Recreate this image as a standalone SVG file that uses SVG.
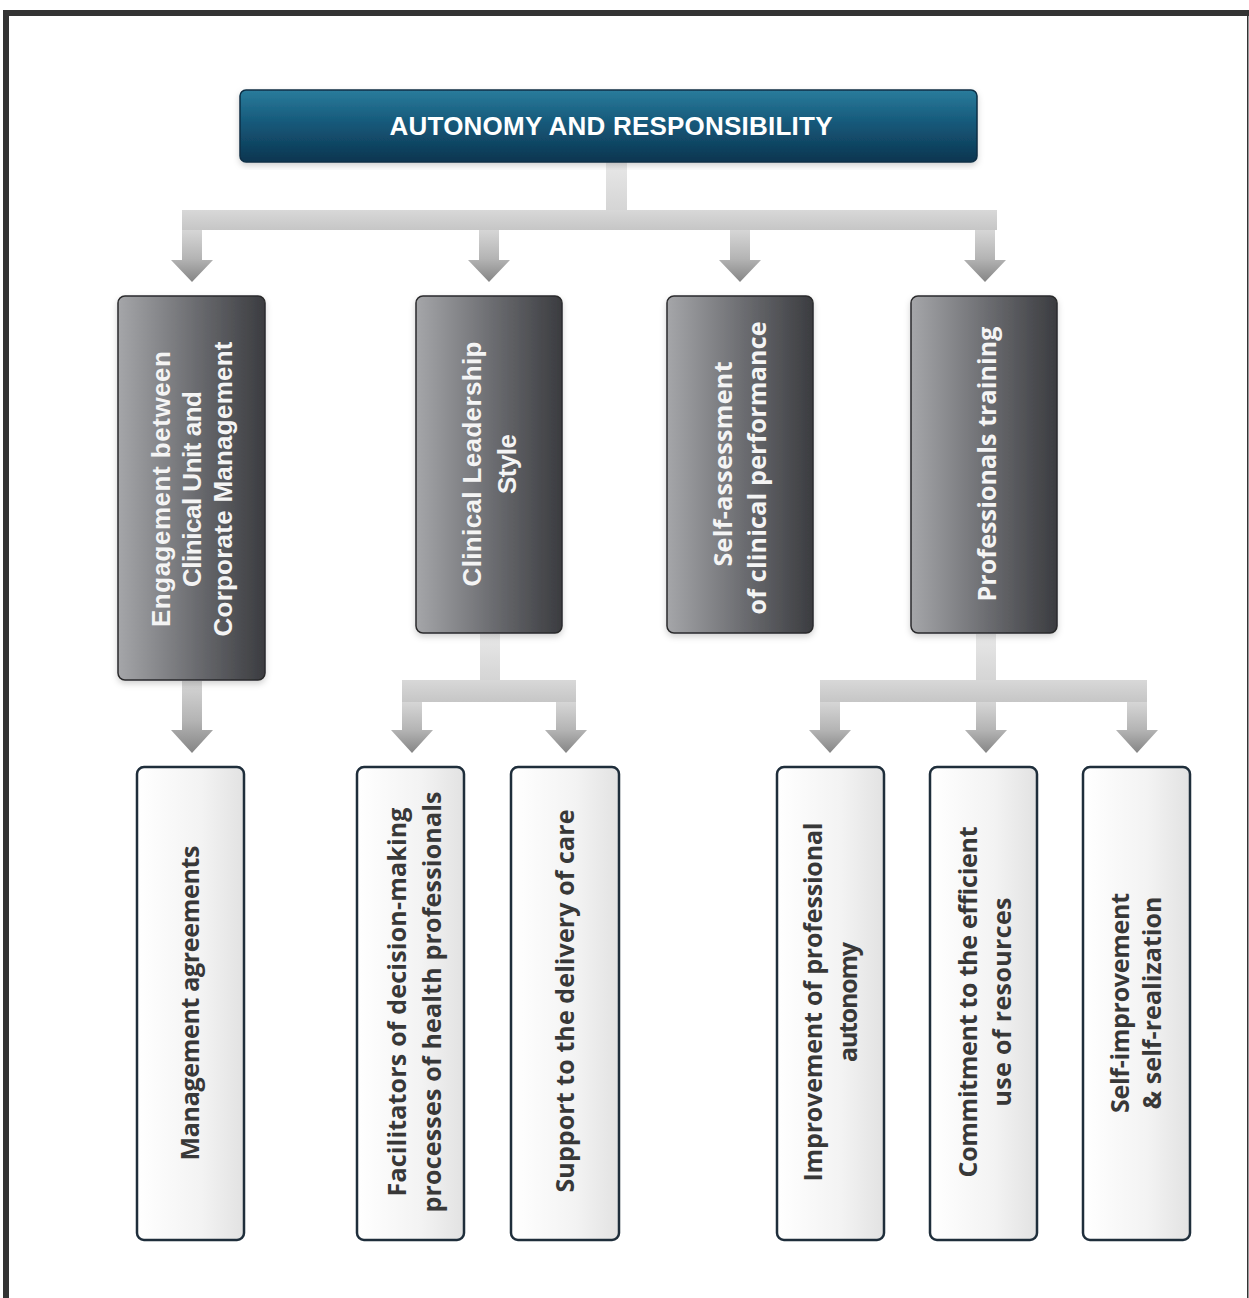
<svg xmlns="http://www.w3.org/2000/svg" width="1249" height="1298" viewBox="0 0 1249 1298">
<defs>
<linearGradient id="gTop" x1="0" y1="0" x2="0" y2="1">
<stop offset="0" stop-color="#2a7c9c"/>
<stop offset="0.45" stop-color="#16597a"/>
<stop offset="1" stop-color="#0c3550"/>
</linearGradient>
<linearGradient id="gMid" x1="0" y1="0" x2="1" y2="0">
<stop offset="0" stop-color="#a5a6a9"/>
<stop offset="0.5" stop-color="#6e6f73"/>
<stop offset="1" stop-color="#3b3c40"/>
</linearGradient>
<linearGradient id="gLeaf" x1="0" y1="0" x2="1" y2="0">
<stop offset="0" stop-color="#ffffff"/>
<stop offset="0.6" stop-color="#f3f3f3"/>
<stop offset="1" stop-color="#e2e2e2"/>
</linearGradient>
<linearGradient id="gArrow" x1="0" y1="0" x2="0" y2="1">
<stop offset="0" stop-color="#d6d6d6"/>
<stop offset="0.55" stop-color="#b4b4b4"/>
<stop offset="1" stop-color="#858585"/>
</linearGradient>
<linearGradient id="gBar" x1="0" y1="0" x2="0" y2="1">
<stop offset="0" stop-color="#d8d8d8"/>
<stop offset="1" stop-color="#c6c6c6"/>
</linearGradient>
<linearGradient id="gStem" x1="0" y1="0" x2="0" y2="1">
<stop offset="0" stop-color="#e8e8e8"/>
<stop offset="1" stop-color="#d4d4d4"/>
</linearGradient>
<filter id="sh" x="-10%" y="-10%" width="120%" height="120%">
<feDropShadow dx="0" dy="3" stdDeviation="3" flood-color="#000" flood-opacity="0.18"/>
</filter>
</defs>
<style>
.top{fill:url(#gTop);stroke:#0b2f45;stroke-width:1.5}
.mid{fill:url(#gMid);stroke:#2a2a2c;stroke-width:1.5}
.leaf{fill:url(#gLeaf);stroke:#1f2e3b;stroke-width:2.5}
.bar{fill:url(#gBar)}
.stem{fill:url(#gStem)}
.arr{fill:url(#gArrow)}
.t1{font-family:"Liberation Sans",Arial,sans-serif;font-weight:bold;font-size:26px;fill:#ffffff;text-anchor:middle}
.t2{font-family:"Liberation Sans",Arial,sans-serif;font-weight:bold;font-size:26px;fill:#f4f4f4;text-anchor:middle}
.t2b{font-family:"Open Sans","Liberation Sans",sans-serif;font-weight:bold;font-size:25px;fill:#f4f4f4;text-anchor:middle}
.t3{font-family:"Open Sans","Liberation Sans",sans-serif;font-weight:bold;font-size:25px;fill:#383838;text-anchor:middle}
</style>
<rect width="1249" height="1298" fill="#ffffff"/>
<g id="frame">
<rect x="3" y="10" width="1246" height="6" fill="#333333"/>
<rect x="3" y="10" width="6" height="1288" fill="#333333"/>
<rect x="1247" y="10" width="1.5" height="1288" fill="#333333"/>
</g>
<g id="connectors">
<rect class="stem" x="606" y="162" width="21" height="50"/>
<rect class="bar" x="182" y="210" width="815" height="20"/>
<polygon class="arr" points="182,230 202,230 202,260 213,260 192,282 171,260 182,260"/>
<polygon class="arr" points="479,230 499,230 499,260 510,260 489,282 468,260 479,260"/>
<polygon class="arr" points="730,230 750,230 750,260 761,260 740,282 719,260 730,260"/>
<polygon class="arr" points="975,230 995,230 995,260 1006,260 985,282 964,260 975,260"/>
<polygon class="arr" points="182,681 202,681 202,730 213,730 192,753 171,730 182,730"/>
<rect class="stem" x="480" y="634" width="20" height="48"/>
<rect class="bar" x="402" y="680" width="174" height="22"/>
<polygon class="arr" points="402,702 422,702 422,730 433,730 412,753 391,730 402,730"/>
<polygon class="arr" points="556,702 576,702 576,730 587,730 566,753 545,730 556,730"/>
<rect class="stem" x="976" y="634" width="20" height="48"/>
<rect class="bar" x="820" y="680" width="327" height="22"/>
<polygon class="arr" points="820,702 840,702 840,730 851,730 830,753 809,730 820,730"/>
<polygon class="arr" points="976,702 996,702 996,730 1007,730 986,753 965,730 976,730"/>
<polygon class="arr" points="1127,702 1147,702 1147,730 1158,730 1137,753 1116,730 1127,730"/>
</g>
<g id="root">
<rect class="top" x="240" y="90" width="737" height="72" rx="6" filter="url(#sh)"/>
<text class="t1" x="611" y="135" textLength="443">AUTONOMY AND RESPONSIBILITY</text>
</g>
<g id="engagement">
<rect class="mid" x="118" y="296" width="147" height="384" rx="7" filter="url(#sh)"/>
<g transform="translate(192,489) rotate(-90)">
<text class="t2" x="0" y="-22" textLength="276">Engagement between</text>
<text class="t2" x="0" y="9" textLength="196">Clinical Unit and</text>
<text class="t2" x="0" y="40" textLength="295">Corporate Management</text>
</g>
</g>
<g id="leadership">
<rect class="mid" x="416" y="296" width="146" height="337" rx="7" filter="url(#sh)"/>
<g transform="translate(490,464) rotate(-90)">
<text class="t2" x="0" y="-9" textLength="245">Clinical Leadership</text>
<text class="t2" x="0" y="26" textLength="60">Style</text>
</g>
</g>
<g id="selfassessment">
<rect class="mid" x="667" y="296" width="146" height="337" rx="7" filter="url(#sh)"/>
<g transform="translate(740,466) rotate(-90)">
<text class="t2b" x="2" y="-8" textLength="205">Self-assessment</text>
<text class="t2b" x="-2" y="26" textLength="293">of clinical performance</text>
</g>
</g>
<g id="training">
<rect class="mid" x="911" y="296" width="146" height="337" rx="7" filter="url(#sh)"/>
<g transform="translate(987,464) rotate(-90)">
<text class="t2b" x="0" y="9" textLength="275">Professionals training</text>
</g>
</g>
<g id="management">
<rect class="leaf" x="137" y="767" width="107" height="473" rx="7"/>
<g transform="translate(190,1003) rotate(-90)">
<text class="t3" x="0" y="9" textLength="315">Management agreements</text>
</g>
</g>
<g id="facilitators">
<rect class="leaf" x="357" y="767" width="107" height="473" rx="7"/>
<g transform="translate(414,1002) rotate(-90)">
<text class="t3" x="0" y="-8" textLength="389">Facilitators of decision-making</text>
<text class="t3" x="0" y="27" textLength="421">processes of health professionals</text>
</g>
</g>
<g id="support">
<rect class="leaf" x="511" y="767" width="108" height="473" rx="7"/>
<g transform="translate(565,1001) rotate(-90)">
<text class="t3" x="0" y="9" textLength="383">Support to the delivery of care</text>
</g>
</g>
<g id="improvement">
<rect class="leaf" x="777" y="767" width="107" height="473" rx="7"/>
<g transform="translate(830,1002) rotate(-90)">
<text class="t3" x="0" y="-8" textLength="359">Improvement of professional</text>
<text class="t3" x="0" y="27" textLength="120">autonomy</text>
</g>
</g>
<g id="commitment">
<rect class="leaf" x="930" y="767" width="107" height="473" rx="7"/>
<g transform="translate(985,1002) rotate(-90)">
<text class="t3" x="0" y="-8" textLength="351">Commitment to the efficient</text>
<text class="t3" x="0" y="26" textLength="209">use of resources</text>
</g>
</g>
<g id="selfimprovement">
<rect class="leaf" x="1083" y="767" width="107" height="473" rx="7"/>
<g transform="translate(1136,1003) rotate(-90)">
<text class="t3" x="0" y="-7" textLength="220">Self-improvement</text>
<text class="t3" x="0" y="25" textLength="213">&amp; self-realization</text>
</g>
</g>
</svg>
